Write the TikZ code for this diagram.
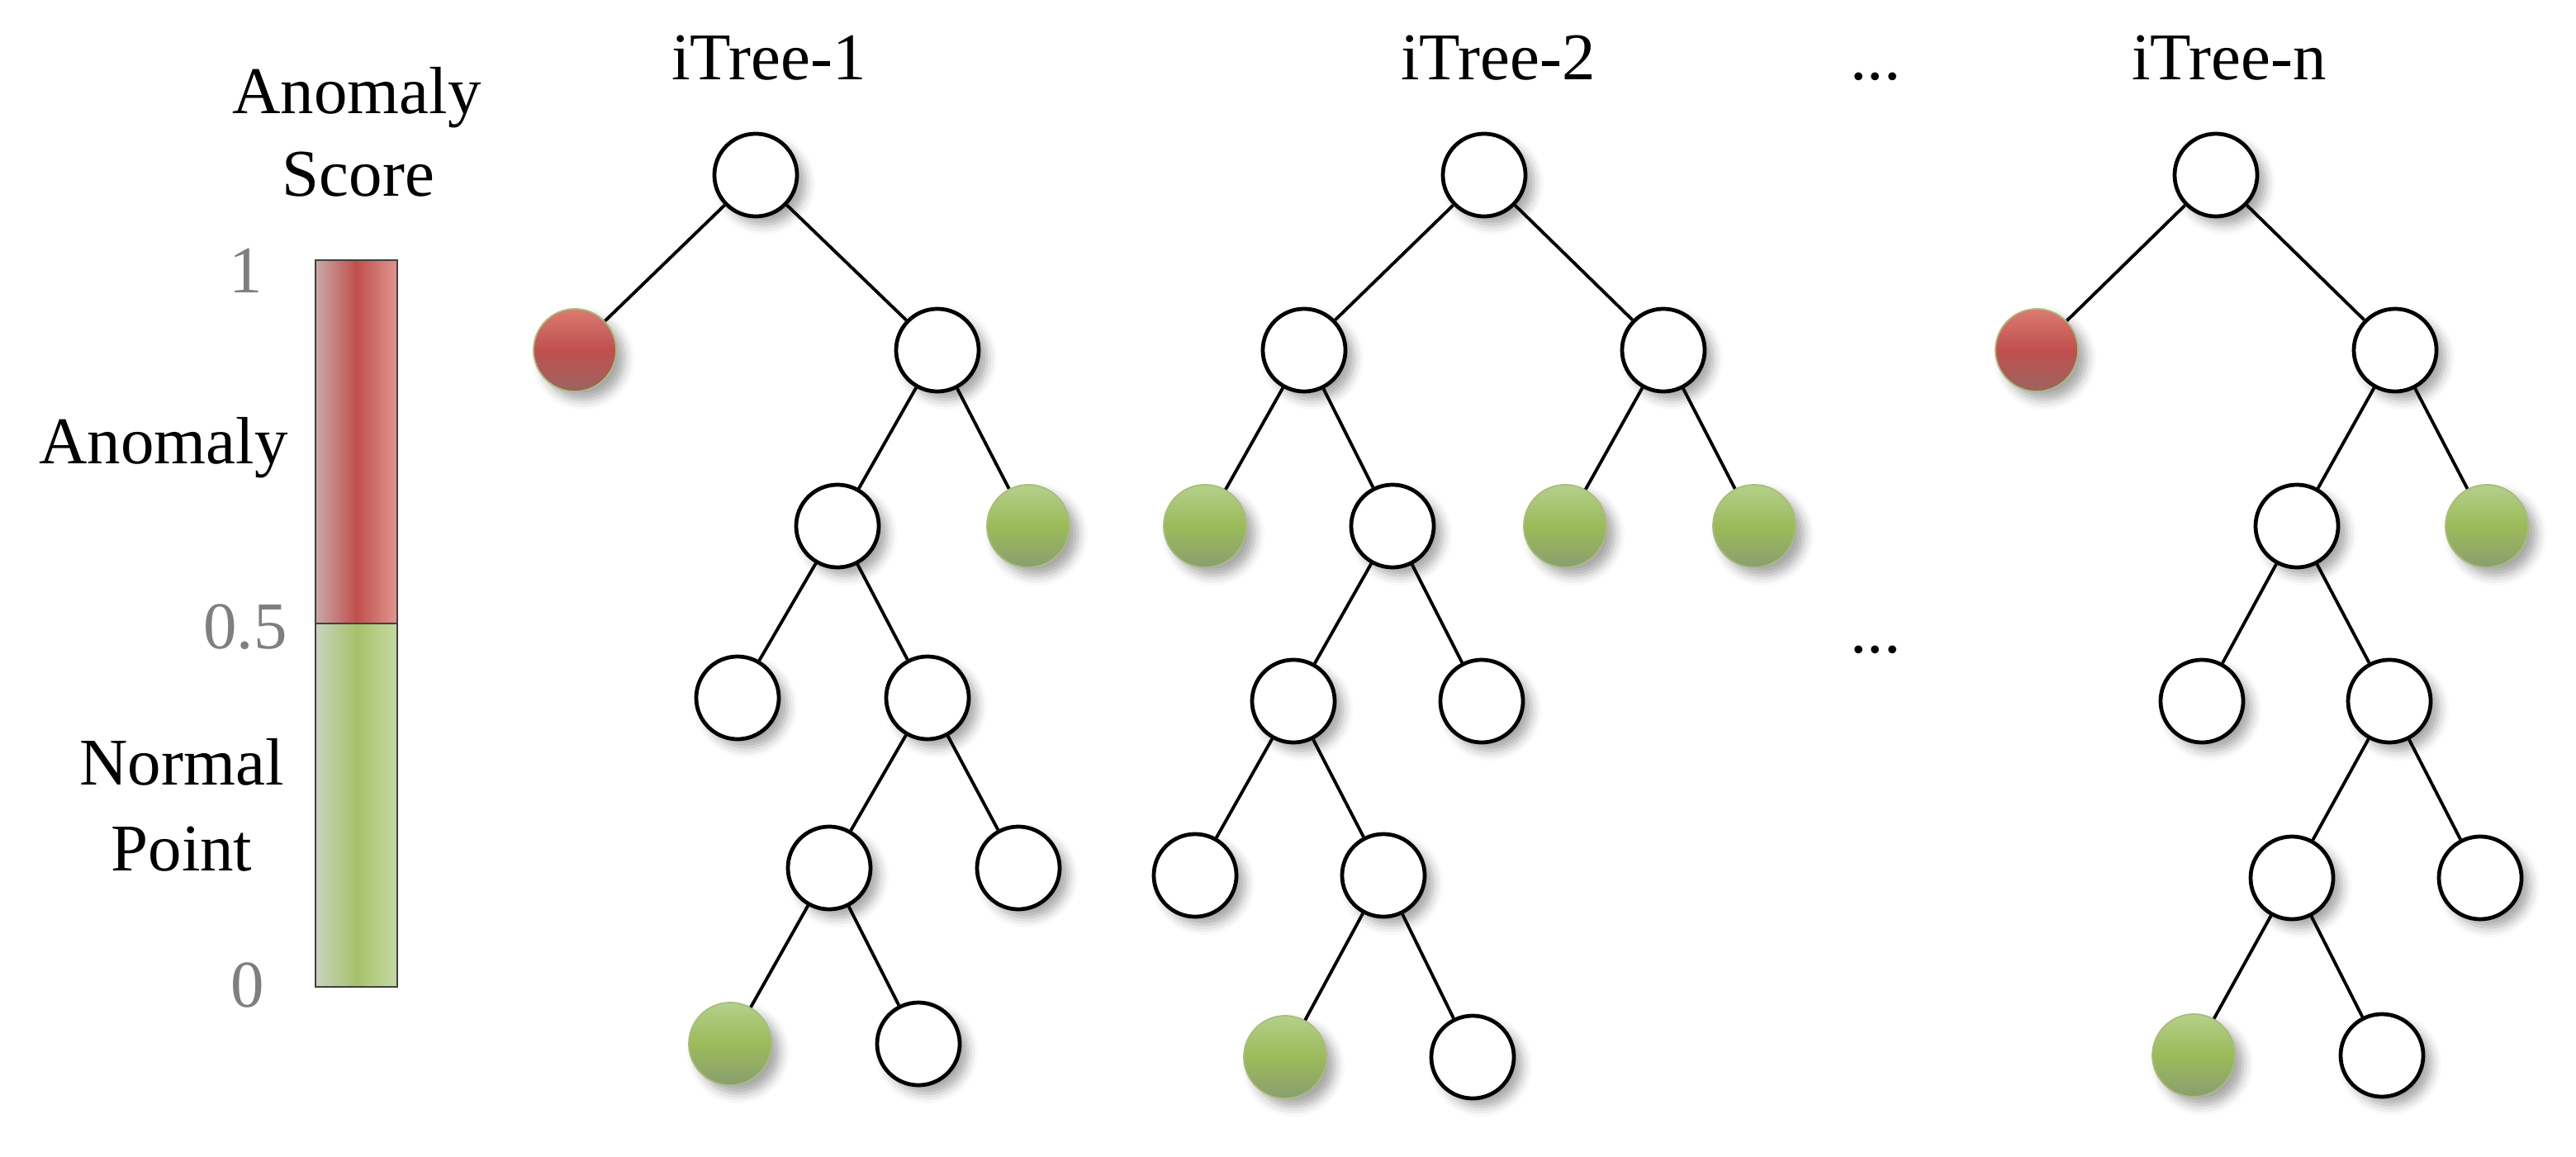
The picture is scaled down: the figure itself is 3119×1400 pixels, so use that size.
\documentclass[tikz,border=0pt]{standalone}
\usepackage{fontspec}
\setmainfont{Liberation Serif}
\usetikzlibrary{shadows.blur}
\definecolor{numgray}{HTML}{7F7F7F}
\definecolor{redtop}{HTML}{DA7B72}
\definecolor{redmid}{HTML}{C0504D}
\definecolor{redbot}{HTML}{9C6461}
\definecolor{grntop}{HTML}{B4D08A}
\definecolor{grnmid}{HTML}{9BBB59}
\definecolor{grnbot}{HTML}{8A9E70}
\definecolor{rimcol}{HTML}{A9BC7C}
\tikzset{
  nd/.style={circle, minimum size=1cm, inner sep=0pt, draw=black, line width=1.35pt, fill=white,
    blur shadow={shadow xshift=0.1cm, shadow yshift=-0.1cm, shadow blur radius=0.12cm, shadow opacity=35}},
  anom/.style={nd, draw=rimcol, line width=0.5pt, top color=redtop, bottom color=redbot, middle color=redmid},
  norm/.style={nd, draw=rimcol, line width=0.5pt, top color=grntop, bottom color=grnbot, middle color=grnmid},
  edge/.style={line width=1.1pt, black},
  lbl/.style={anchor=base, inner sep=0pt, font=\fontsize{23}{28}\selectfont},
  num/.style={lbl, text=numgray}
}
\begin{document}
\begin{tikzpicture}[x=0.01cm,y=-0.01cm]
\useasboundingbox (0,0) rectangle (3119,1400);

% colour bar
\shade[left color=redbot!55!white, right color=redtop!80!white, middle color=redmid] (382,315) rectangle (481,755);
\shade[left color=grnbot!45!white, right color=grntop!80!white, middle color=grnmid!90!white] (382,755) rectangle (481,1195);
\draw[line width=0.7pt, black!75] (382,315) rectangle (481,1195);
\draw[line width=0.7pt, black!75] (382,755) -- (481,755);

\node[lbl] (t1) at (432,138) {Anomaly};
\node[lbl] (t2) at (434,238) {Score};
\node[num] (n1) at (298,354) {1};
\node[num] (n05) at (297,785) {0.5};
\node[num] (n0) at (300,1219) {0};
\node[lbl] (la) at (198,561) {Anomaly};
\node[lbl] (ln1) at (220,950) {Normal};
\node[lbl] (ln2) at (220,1054) {Point};

% titles
\node[lbl] (h1) at (931,97) {iTree-1};
\node[lbl] (h2) at (1814,97) {iTree-2};
\node[lbl] (hd) at (2271,97) {...};
\node[lbl] (hn) at (2699,97) {iTree-n};
\node[lbl] (md) at (2271,790) {...};

% tree 1
\node[nd] (a0) at (915,212) {};
\node[anom] (a1) at (696,424) {};
\node[nd] (a2) at (1135,424) {};
\node[nd] (a3) at (1014,637) {};
\node[norm] (a4) at (1245,637) {};
\node[nd] (a5) at (893,845) {};
\node[nd] (a6) at (1123,845) {};
\node[nd] (a7) at (1004,1051) {};
\node[nd] (a8) at (1233,1051) {};
\node[norm] (a9) at (884,1264) {};
\node[nd] (a10) at (1112,1264) {};
\draw[edge] (a0)--(a1) (a0)--(a2) (a2)--(a3) (a2)--(a4) (a3)--(a5) (a3)--(a6)
  (a6)--(a7) (a6)--(a8) (a7)--(a9) (a7)--(a10);

% tree 2
\node[nd] (b0) at (1797,212) {};
\node[nd] (b1) at (1579,424) {};
\node[nd] (b2) at (2014,424) {};
\node[norm] (b3) at (1459,637) {};
\node[nd] (b4) at (1686,637) {};
\node[norm] (b5) at (1895,637) {};
\node[norm] (b6) at (2124,637) {};
\node[nd] (b7) at (1566,849) {};
\node[nd] (b8) at (1794,849) {};
\node[nd] (b9) at (1447,1060) {};
\node[nd] (b10) at (1675,1060) {};
\node[norm] (b11) at (1556,1280) {};
\node[nd] (b12) at (1783,1280) {};
\draw[edge] (b0)--(b1) (b0)--(b2) (b1)--(b3) (b1)--(b4) (b2)--(b5) (b2)--(b6)
  (b4)--(b7) (b4)--(b8) (b7)--(b9) (b7)--(b10) (b10)--(b11) (b10)--(b12);

% tree n
\node[nd] (c0) at (2683,212) {};
\node[anom] (c1) at (2466,424) {};
\node[nd] (c2) at (2900,424) {};
\node[nd] (c3) at (2781,637) {};
\node[norm] (c4) at (3011,637) {};
\node[nd] (c5) at (2666,849) {};
\node[nd] (c6) at (2893,849) {};
\node[nd] (c7) at (2775,1063) {};
\node[nd] (c8) at (3003,1063) {};
\node[norm] (c9) at (2656,1278) {};
\node[nd] (c10) at (2884,1278) {};
\draw[edge] (c0)--(c1) (c0)--(c2) (c2)--(c3) (c2)--(c4) (c3)--(c5) (c3)--(c6)
  (c6)--(c7) (c6)--(c8) (c7)--(c9) (c7)--(c10);
\end{tikzpicture}
\end{document}
